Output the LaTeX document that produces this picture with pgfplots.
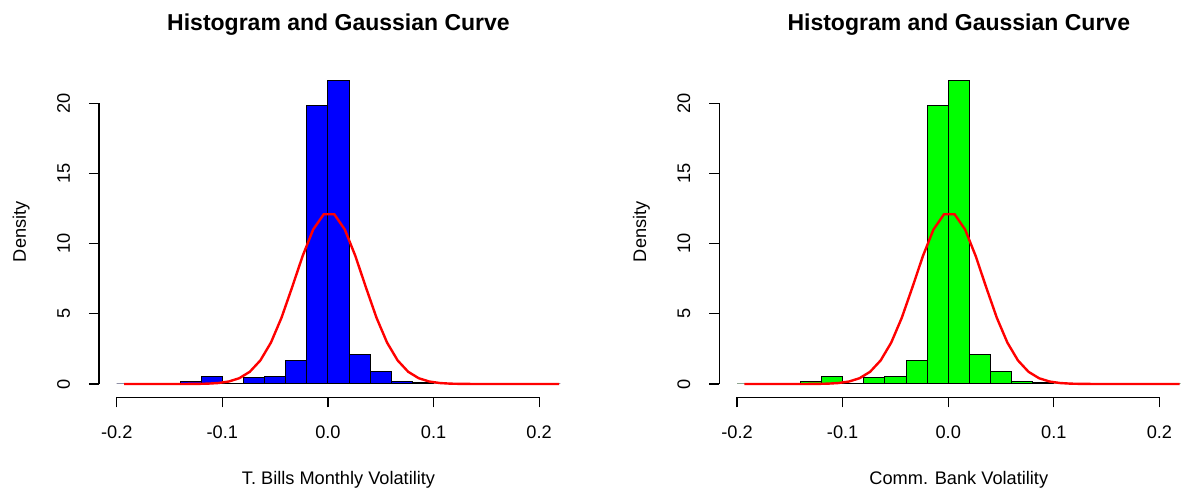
\documentclass[border=0pt]{standalone}
\usepackage{fontspec}
\setmainfont{Liberation Sans}
\usepackage{pgfplots}
\pgfplotsset{compat=1.18}
\pgfplotsset{
  rhist/.style={
    scale only axis, width=239.5pt, height=165.75pt,
    anchor=south west,
    xmin=-0.2168, xmax=0.2368, ymin=-0.963, ymax=22.67,
    clip=false,
    axis x line*=bottom, axis y line*=left,
    axis line style={draw=none},
    tick align=outside, major tick length=5pt,
    tick style={black, line width=0.6pt},
    xtick={-0.2,-0.1,0,0.1,0.2},
    xticklabels={-0.2,-0.1,0.0,0.1,0.2},
    ytick={0,5,10,15,20},
    yticklabels={0,5,10,15,20},
    tick label style={font=\fontsize{9.1pt}{11pt}\selectfont},
    xticklabel shift=5.7pt,
    yticklabel style={rotate=90, anchor=south},
    yticklabel shift=6pt,
    every axis x label/.style={at={(rel axis cs:0.5,0)}, anchor=base, yshift=-43.75pt, font=\fontsize{9.1pt}{11pt}\selectfont},
    every axis y label/.style={at={(rel axis cs:0,0.5)}, xshift=-36.6pt, rotate=90, anchor=base, font=\fontsize{9.1pt}{11pt}\selectfont},
    every axis title/.style={at={(rel axis cs:0.5,1)}, anchor=base, yshift=17.65pt, font=\fontsize{11.5pt}{13pt}\selectfont\bfseries},
    title={Histogram and Gaussian Curve},
    ylabel={Density},
  }
}
\pgfplotstableread{
x y
-0.20 0
-0.18 0
-0.16 0
-0.14 0.21
-0.12 0.56
-0.10 0.07
-0.08 0.49
-0.06 0.56
-0.04 1.67
-0.02 19.87
0.00 21.65
0.02 2.10
0.04 0.90
0.06 0.21
0.08 0.14
0.10 0
0.12 0
0.14 0
0.16 0
0.18 0
0.20 0
0.22 0
}\histdata
\pgfplotstableread{
x y
-0.193 0
-0.184 0
-0.174 0
-0.164 0
-0.154 0
-0.144 0
-0.134 0.002
-0.124 0.008
-0.114 0.024
-0.104 0.068
-0.094 0.175
-0.084 0.41
-0.074 0.87
-0.064 1.68
-0.054 2.95
-0.044 4.72
-0.034 6.88
-0.024 9.12
-0.014 11.01
-0.004 12.10
0.006 12.10
0.016 11.01
0.026 9.12
0.036 6.88
0.046 4.72
0.056 2.95
0.066 1.68
0.076 0.87
0.086 0.41
0.096 0.175
0.106 0.068
0.116 0.024
0.126 0.008
0.136 0.002
0.146 0
0.156 0
0.166 0
0.176 0
0.186 0
0.196 0
0.206 0
0.219 0
}\curvedata
\begin{document}
\begin{tikzpicture}
\useasboundingbox (0,0) rectangle (592pt,246pt);
\begin{axis}[rhist, at={(49.5pt,47.25pt)}, xlabel={T. Bills Monthly Volatility}]
\addplot[ybar interval, fill={rgb,255:red,0;green,0;blue,255}, draw=black, line width=0.5pt] table[x=x,y=y] {\histdata};
\addplot[color={rgb,255:red,255;green,0;blue,0}, line width=1.2pt, mark=none] table[x=x,y=y] {\curvedata};
\draw[black, line width=0.7pt] (axis cs:-0.2,-0.963) -- (axis cs:0.2,-0.963);
\draw[black, line width=0.7pt] (axis cs:-0.2168,0) -- (axis cs:-0.2168,20);
\end{axis}
\begin{axis}[rhist, at={(359.65pt,47.25pt)}, xlabel={Comm. Bank Volatility}]
\addplot[ybar interval, fill={rgb,255:red,0;green,255;blue,0}, draw=black, line width=0.5pt] table[x=x,y=y] {\histdata};
\addplot[color={rgb,255:red,255;green,0;blue,0}, line width=1.2pt, mark=none] table[x=x,y=y] {\curvedata};
\draw[black, line width=0.7pt] (axis cs:-0.2,-0.963) -- (axis cs:0.2,-0.963);
\draw[black, line width=0.7pt] (axis cs:-0.2168,0) -- (axis cs:-0.2168,20);
\end{axis}
\end{tikzpicture}
\end{document}
